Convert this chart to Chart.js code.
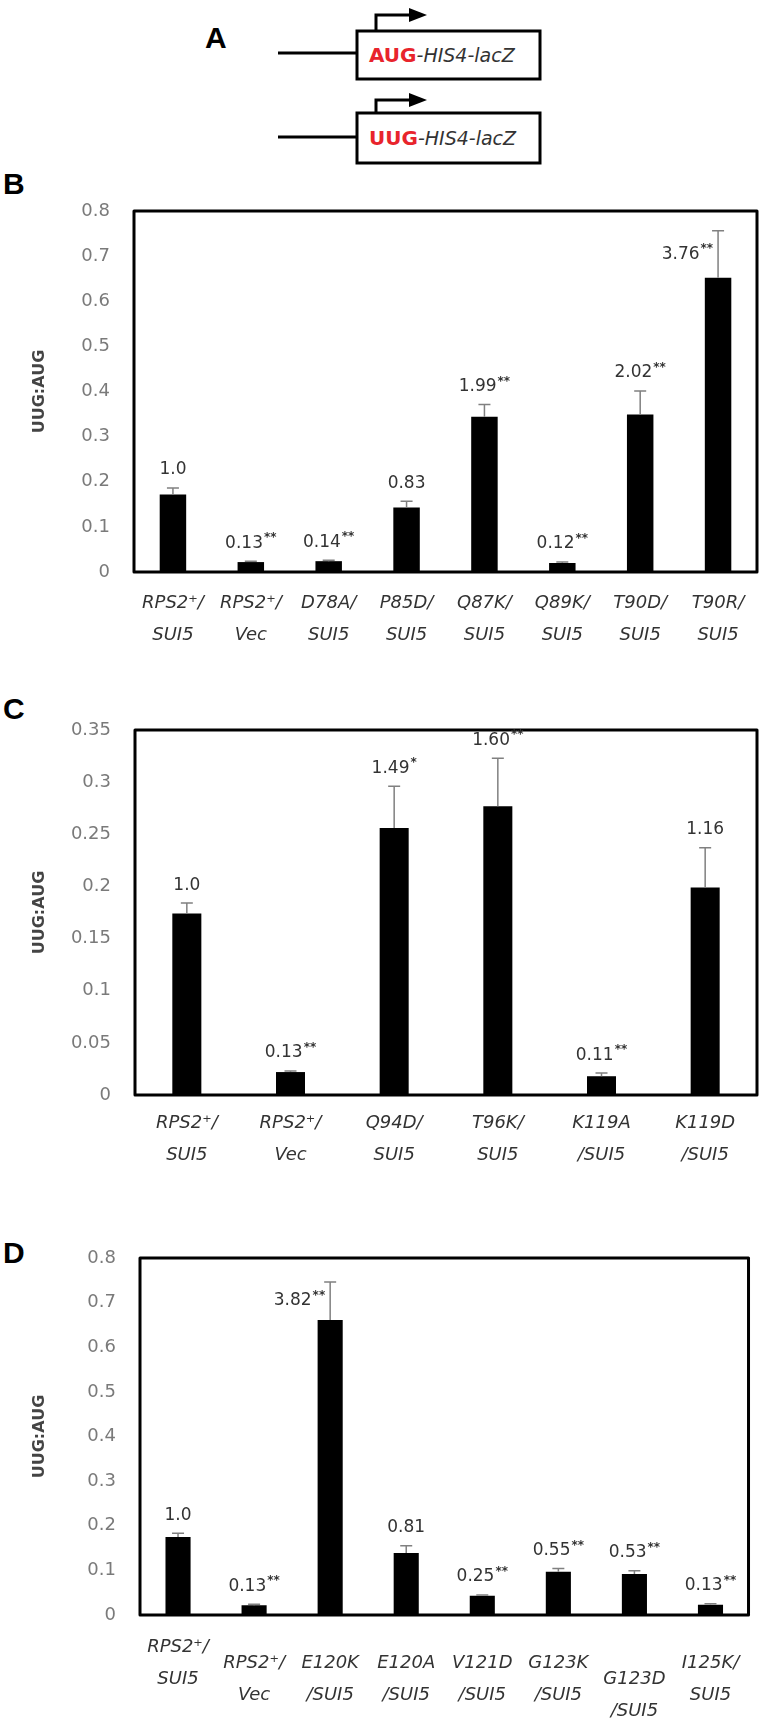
<!DOCTYPE html>
<html>
<head>
<meta charset="utf-8">
<script src="https://cdn.jsdelivr.net/npm/chart.js@4.4.0/dist/chart.umd.min.js"></script>
<style>
  body { margin: 0; background: #fff; width: 772px; height: 1732px; position: relative; overflow: hidden; }
  .letter { position: absolute; font: bold 30px "Liberation Sans", Arial, sans-serif; line-height: 30px; color: #000; }
  canvas { position: absolute; left: 0; }
  svg { position: absolute; left: 0; top: 0; }
</style>
</head>
<body>

<!-- panel A: reporter constructs -->
<svg width="772" height="170">
  <g stroke="#000" stroke-width="3" fill="none">
    <line x1="278" y1="53" x2="357" y2="53"/>
    <rect x="357" y="31" width="183" height="48" fill="#fff"/>
    <polyline points="376,31 376,15 412,15"/>
    <line x1="278" y1="137" x2="357" y2="137"/>
    <rect x="357" y="113" width="183" height="50" fill="#fff"/>
    <polyline points="376,113 376,100 412,100"/>
  </g>
  <polygon points="409,8 427,15 409,22" fill="#000"/>
  <polygon points="409,93 427,100 409,107" fill="#000"/>
  <text x="369" y="62" font-family="DejaVu Sans" font-size="20"><tspan fill="#e8242c" font-weight="bold">AUG</tspan><tspan fill="#333" font-style="italic" font-size="19">-HIS4-lacZ</tspan></text>
  <text x="369" y="145" font-family="DejaVu Sans" font-size="20"><tspan fill="#e8242c" font-weight="bold">UUG</tspan><tspan fill="#333" font-style="italic" font-size="19">-HIS4-lacZ</tspan></text>
</svg>
<div class="letter" style="left:205px;top:23px">A</div>
<div class="letter" style="left:3px;top:169px">B</div>
<div class="letter" style="left:3px;top:694px">C</div>
<div class="letter" style="left:3px;top:1238px">D</div>

<canvas id="chartB" width="772" height="490" style="top:170px"></canvas>
<canvas id="chartC" width="772" height="500" style="top:680px"></canvas>
<canvas id="chartD" width="772" height="542" style="top:1190px"></canvas>

<script>
// ---- panel B ----
const catB = [['RPS2⁺/', 'SUI5'], ['RPS2⁺/', 'Vec'], ['D78A/', 'SUI5'], ['P85D/', 'SUI5'],
              ['Q87K/', 'SUI5'], ['Q89K/', 'SUI5'], ['T90D/', 'SUI5'], ['T90R/', 'SUI5']];
const valB = [0.172, 0.022, 0.024, 0.143, 0.344, 0.020, 0.349, 0.652];
const errB = [0.186, 0.024, 0.026, 0.157, 0.371, 0.022, 0.401, 0.756];
const numB = ['1.0', '0.13', '0.14', '0.83', '1.99', '0.12', '2.02', '3.76'];
const starB = ['', '**', '**', '', '**', '**', '**', '**'];
const tickB = ['0', '0.1', '0.2', '0.3', '0.4', '0.5', '0.6', '0.7', '0.8'];

// ---- panel C ----
const catC = [['RPS2⁺/', 'SUI5'], ['RPS2⁺/', 'Vec'], ['Q94D/', 'SUI5'], ['T96K/', 'SUI5'],
              ['K119A', '/SUI5'], ['K119D', '/SUI5']];
const valC = [0.174, 0.022, 0.256, 0.277, 0.018, 0.199];
const errC = [0.184, 0.023, 0.296, 0.323, 0.021, 0.237];
const numC = ['1.0', '0.13', '1.49', '1.60', '0.11', '1.16'];
const starC = ['', '**', '*', '**', '**', ''];
const tickC = ['0', '0.05', '0.1', '0.15', '0.2', '0.25', '0.3', '0.35'];

// ---- panel D ----
const catD = [['RPS2⁺/', 'SUI5', ''], ['RPS2⁺/', 'Vec'], ['E120K', '/SUI5'], ['E120A', '/SUI5'],
              ['V121D', '/SUI5'], ['G123K', '/SUI5'], ['', 'G123D', '/SUI5'], ['I125K/', 'SUI5']];
const valD = [0.175, 0.022, 0.661, 0.139, 0.043, 0.097, 0.092, 0.023];
const errD = [0.183, 0.024, 0.746, 0.155, 0.045, 0.104, 0.099, 0.025];
const numD = ['1.0', '0.13', '3.82', '0.81', '0.25', '0.55', '0.53', '0.13'];
const starD = ['', '**', '**', '', '**', '**', '**', '**'];
const tickD = ['0', '0.1', '0.2', '0.3', '0.4', '0.5', '0.6', '0.7', '0.8'];

// frame, error bars and value labels
function decor(err, num, star, sideFrom) {
  return {
    id: 'decor',
    afterDatasetsDraw(chart) {
      const { ctx, chartArea: a, scales: { y } } = chart;
      const meta = chart.getDatasetMeta(0);
      ctx.save();
      ctx.strokeStyle = '#000';
      ctx.lineWidth = 3;
      ctx.lineJoin = 'round';
      ctx.strokeRect(a.left, a.top, a.right - a.left, a.bottom - a.top);

      meta.data.forEach((bar, i) => {
        const cx = bar.x;
        const top = y.getPixelForValue(err[i]);
        ctx.strokeStyle = '#808080';
        ctx.lineWidth = 1.5;
        ctx.beginPath();
        ctx.moveTo(cx, bar.y);
        ctx.lineTo(cx, top);
        ctx.moveTo(cx - 6, top);
        ctx.lineTo(cx + 6, top);
        ctx.stroke();

        const mainFont = '17px "DejaVu Sans"';
        const starFont = 'bold 12px "DejaVu Sans"';
        ctx.font = mainFont;
        const w1 = ctx.measureText(num[i]).width;
        ctx.font = starFont;
        const w2 = star[i] ? ctx.measureText(star[i]).width + 1 : 0;
        let lx, ly;
        if (err[i] >= sideFrom) {
          lx = cx - 5 - (w1 + w2);
          ly = (top + bar.y) / 2;
        } else {
          lx = cx - (w1 + w2) / 2;
          ly = top - 18;
        }
        ctx.textAlign = 'left';
        ctx.textBaseline = 'middle';
        ctx.fillStyle = '#333';
        ctx.font = mainFont;
        ctx.fillText(num[i], lx, ly);
        if (star[i]) {
          ctx.font = starFont;
          ctx.fillText(star[i], lx + w1 + 1, ly - 5);
        }
      });
      ctx.restore();
    }
  };
}

function makeChart(id, cats, vals, err, num, star, ticks, max, step, cfg) {
  const ctx = document.getElementById(id).getContext('2d');
  return new Chart(ctx, {
    type: 'bar',
    data: {
      labels: cats,
      datasets: [{
        data: vals,
        backgroundColor: '#000',
        borderWidth: 0,
        barPercentage: cfg.barPct,
        categoryPercentage: 1
      }]
    },
    options: {
      responsive: false,
      devicePixelRatio: 1,
      animation: false,
      layout: { padding: { top: cfg.padTop, right: cfg.padRight, left: 0, bottom: 0 } },
      plugins: { legend: { display: false }, tooltip: { enabled: false } },
      scales: {
        x: {
          grid: { display: false, drawTicks: false },
          border: { display: false },
          ticks: {
            color: '#333',
            autoSkip: false,
            maxRotation: 0,
            padding: cfg.xPad,
            crossAlign: cfg.crossAlign,
            font: { family: 'DejaVu Sans', size: 18, style: 'italic', lineHeight: 1.78 }
          },
          afterFit: s => { s.height = cfg.xH; }
        },
        y: {
          min: 0,
          max: max,
          grid: { display: false, drawTicks: false },
          border: { display: false },
          ticks: {
            stepSize: step,
            color: '#7a7a7a',
            padding: 24,
            font: { family: 'DejaVu Sans', size: 18 },
            callback: v => ticks[Math.round(v / step)]
          },
          title: {
            display: true,
            text: 'UUG:AUG',
            color: '#444',
            font: { family: 'DejaVu Sans', size: 16, weight: 'bold' },
            padding: { top: 30, bottom: 0 }
          },
          afterFit: s => { s.width = cfg.yW; }
        }
      }
    },
    plugins: [decor(err, num, star, cfg.sideFrom)]
  });
}

makeChart('chartB', catB, valB, errB, numB, starB, tickB, 0.8, 0.1,
  { padTop: 41, padRight: 15, yW: 134, xH: 88, xPad: 15, crossAlign: 'near', barPct: 0.34, sideFrom: 0.7 });
makeChart('chartC', catC, valC, errC, numC, starC, tickC, 0.35, 0.05,
  { padTop: 50, padRight: 15, yW: 135, xH: 85, xPad: 12, crossAlign: 'near', barPct: 0.28, sideFrom: 1 });
makeChart('chartD', catD, valD, errD, numD, starD, tickD, 0.8, 0.1,
  { padTop: 68, padRight: 12, yW: 140, xH: 117, xPad: 32, crossAlign: 'center', barPct: 0.33, sideFrom: 0.7 });
</script>
</body>
</html>
